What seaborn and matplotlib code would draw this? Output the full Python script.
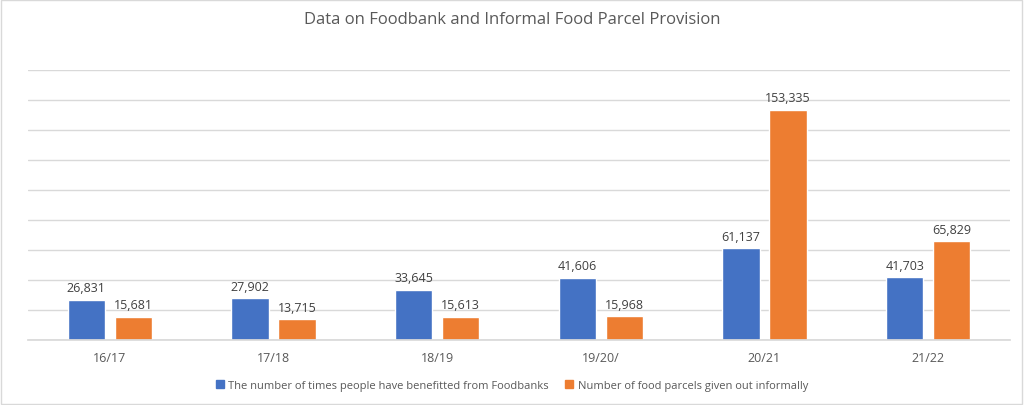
import matplotlib
matplotlib.use("Agg")
import matplotlib.pyplot as plt
import seaborn as sns
import pandas as pd
from matplotlib.patches import Rectangle

years = ["16/17", "17/18", "18/19", "19/20/", "20/21", "21/22"]
foodbanks = [26831, 27902, 33645, 41606, 61137, 41703]
informal = [15681, 13715, 15613, 15968, 153335, 65829]
series_names = ["The number of times people have benefitted from Foodbanks",
                "Number of food parcels given out informally"]
colors = ["#4472C4", "#ED7D31"]

df = pd.DataFrame({
    "year": years * 2,
    "value": foodbanks + informal,
    "series": [series_names[0]] * len(years) + [series_names[1]] * len(years),
})

sns.set_theme(style="white")
plt.rcParams['font.family'] = ['Open Sans', 'DejaVu Sans']
txt = "#595959"

fig = plt.figure(figsize=(10.24, 4.06), dpi=100)
ax = fig.add_axes([0.0273, 0.160, 0.959, 0.665])
sns.barplot(data=df, x="year", y="value", hue="series", order=years,
            hue_order=series_names, palette=colors, width=0.574, gap=0.21,
            saturation=1, ax=ax, legend=False)

ax.set_xlim(-0.5, len(years) - 0.5)
ax.set_ylim(0, 180000)
ax.set_yticks(range(0, 180001, 20000))
ax.yaxis.grid(True, color="#D9D9D9", linewidth=1)
ax.set_axisbelow(True)
ax.tick_params(axis="y", left=False, labelleft=False)
ax.tick_params(axis="x", bottom=False, colors=txt, labelsize=9, pad=2)
ax.set_xlabel("")
ax.set_ylabel("")
for s in ["top", "right", "left"]:
    ax.spines[s].set_visible(False)
ax.spines["bottom"].set_color("#D9D9D9")

for cont in ax.containers:
    ax.bar_label(cont, labels=[f"{int(v):,}" for v in cont.datavalues],
                 padding=4, fontsize=9, color="#404040")

fig.text(0.5, 0.95, "Data on Foodbank and Informal Food Parcel Provision",
         ha="center", va="center", fontsize=12, color=txt)

handles = [Rectangle((0, 0), 1, 1, color=c) for c in colors]
fig.legend(handles, series_names, loc="center", bbox_to_anchor=(0.5, 0.049),
           ncol=2, frameon=False, fontsize=8, handlelength=0.7, handleheight=0.7,
           handletextpad=0.4, columnspacing=1.5, labelcolor=txt)

fig.patches.append(Rectangle((0.001, 0.002), 0.997, 0.995, transform=fig.transFigure,
                             fill=False, edgecolor="#D9D9D9", linewidth=1))
fig.savefig("out.png", dpi=100)
